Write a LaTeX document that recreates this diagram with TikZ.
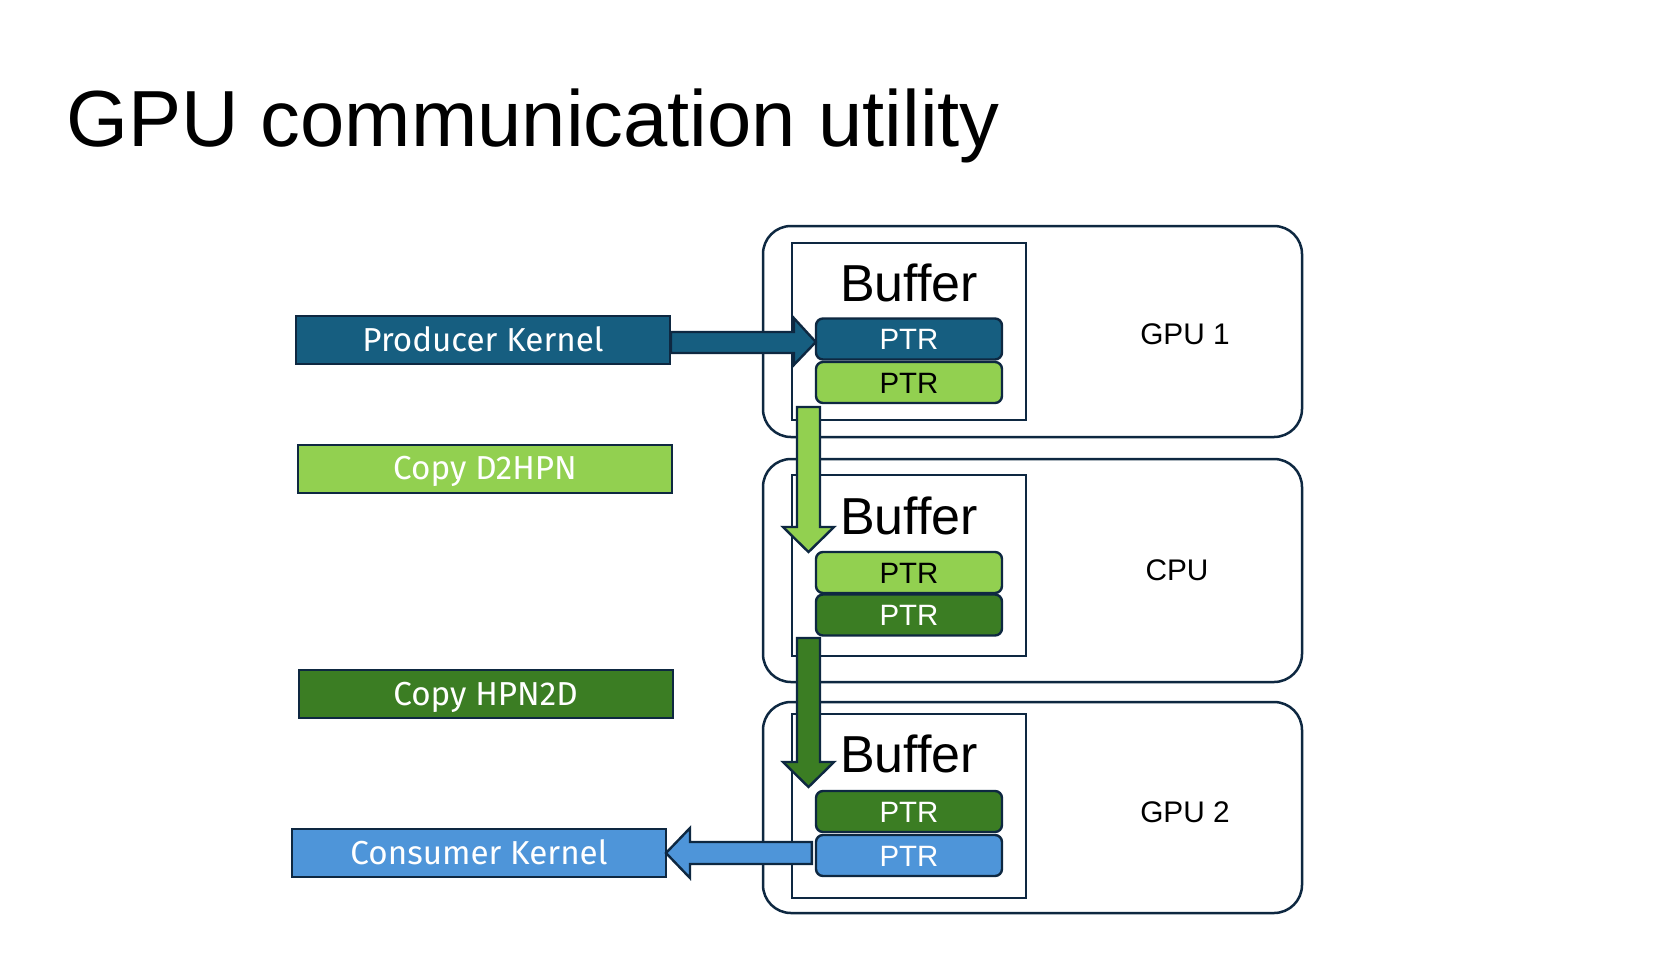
\documentclass[tikz,border=0pt]{standalone}
\usepackage{fontspec}
\setmainfont{Liberation Sans}
\newfontfamily\sidefont{Fira Sans}
\usetikzlibrary{calc}
\definecolor{dblue}{RGB}{22,94,128}
\definecolor{lgreen}{RGB}{146,208,80}
\definecolor{dgreen}{RGB}{59,125,35}
\definecolor{lblue}{RGB}{78,149,217}
\definecolor{navy}{RGB}{14,40,65}
\begin{document}
\begin{tikzpicture}[x=0.5pt,y=-0.5pt,
  outer/.style={draw=navy, line width=1.25pt, rounded corners=14pt, minimum width=269.5pt, inner sep=0pt},
  innerbox/.style={draw=navy, line width=1pt, minimum width=117pt, inner sep=0pt},
  ptr/.style={draw=navy, line width=1.2pt, rounded corners=3.5pt, minimum width=93pt, minimum height=20.5pt, inner sep=0pt, font=\fontsize{14.7}{18}\selectfont, text height=10.5pt, text depth=0pt},
  side/.style={draw=navy, line width=1pt, minimum width=187pt, minimum height=24pt, inner sep=0pt, text=white, font=\sidefont\fontsize{16.6}{19}\selectfont, text height=11.2pt, text depth=0pt},
  buftext/.style={anchor=base, inner sep=0pt, font=\fontsize{26}{30}\selectfont},
  lab/.style={anchor=base, inner sep=0pt, font=\fontsize{14.9}{18}\selectfont},
  blk/.style={draw=navy, line width=1.2pt, line join=miter},
]
\useasboundingbox (0,0) rectangle (1677,971);
\fill[white] (0,0) rectangle (1677,971);

\node[anchor=base west, inner sep=0pt, font=\fontsize{39.8}{46}\selectfont] (title) at (66,146.7) {GPU communication utility};

% outer boxes
\node[outer, minimum height=105.5pt] (gpu1) at (1032.5,331.5) {};
\node[outer, minimum height=111.5pt] (cpu) at (1032.5,570.5) {};
\node[outer, minimum height=105.5pt] (gpu2) at (1032.5,807.5) {};

% buffer boxes
\node[innerbox, minimum height=88.5pt] (buf1) at (909,331.5) {};
\node[innerbox, minimum height=90.5pt] (buf2) at (909,565.5) {};
\node[innerbox, minimum height=92pt] (buf3) at (909,806) {};

\node[buftext] (bt1) at (909,301) {Buffer};
\node[buftext] (bt2) at (909,534) {Buffer};
\node[buftext] (bt3) at (909,772) {Buffer};

% PTR boxes
\node[ptr, fill=dblue, text=white] (p1a) at (909,339) {PTR};
\node[ptr, fill=lgreen] (p1b) at (909,382.5) {PTR};
\node[ptr, fill=lgreen] (p2a) at (909,572.5) {PTR};
\node[ptr, fill=dgreen, text=white] (p2b) at (909,615) {PTR};
\node[ptr, fill=dgreen, text=white] (p3a) at (909,811.5) {PTR};
\node[ptr, fill=lblue, text=white] (p3b) at (909,855.5) {PTR};

% labels
\node[lab] (l1) at (1185,344) {GPU 1};
\node[lab] (l2) at (1177,580) {CPU};
\node[lab] (l3) at (1185,822) {GPU 2};

% side boxes
\node[side, fill=dblue] (prod) at (483,340) {Producer Kernel};
\node[side, fill=lgreen] (d2h) at (485,468.5) {Copy D2HPN};
\node[side, fill=dgreen] (h2d) at (485.5,694) {Copy HPN2D};
\node[side, fill=lblue] (cons) at (479,853) {Consumer Kernel};

% block arrows
\draw[blk, fill=dblue] ($(prod.east)+(0,-8)$) -- ($(p1a.west)+(-21,-7)$) -- ($(p1a.west)+(-21,-21)$) -- ($(p1a.west)+(1,3)$) -- ($(p1a.west)+(-21,26)$) -- ($(p1a.west)+(-21,14)$) -- ($(prod.east)+(0,13)$) -- cycle;

\coordinate (g1) at (808.5,407);
\coordinate (g1t) at (808.5,552);
\draw[blk, fill=lgreen] ($(g1)+(-11.5,0)$) -- ($(g1)+(11.5,0)$) -- ($(g1t)+(11.5,-25)$) -- ($(g1t)+(25.5,-25)$) -- (g1t) -- ($(g1t)+(-25.5,-25)$) -- ($(g1t)+(-11.5,-25)$) -- cycle;

\coordinate (g2) at (808.5,638);
\coordinate (g2t) at (808.5,787);
\draw[blk, fill=dgreen] ($(g2)+(-11.5,0)$) -- ($(g2)+(11.5,0)$) -- ($(g2t)+(11.5,-25)$) -- ($(g2t)+(25.5,-25)$) -- (g2t) -- ($(g2t)+(-25.5,-25)$) -- ($(g2t)+(-11.5,-25)$) -- cycle;

\draw[blk, fill=lblue] ($(p3b.west)+(-3,-13.5)$) -- ($(cons.east)+(23,-11)$) -- ($(cons.east)+(23,-25)$) -- ($(cons.east)+(-1,0)$) -- ($(cons.east)+(23,25)$) -- ($(cons.east)+(23,11)$) -- ($(p3b.west)+(-3,8.5)$) -- cycle;
\end{tikzpicture}
\end{document}
